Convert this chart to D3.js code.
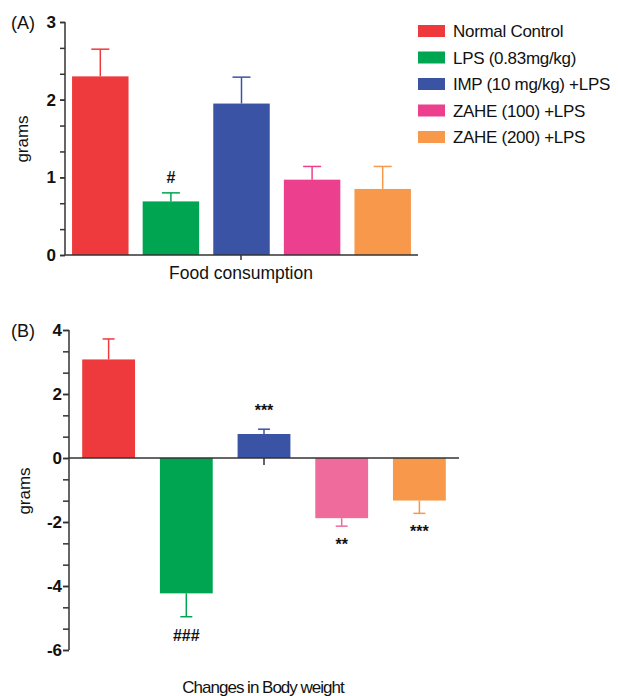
<!DOCTYPE html>
<html>
<head>
<meta charset="utf-8">
<script src="https://cdn.jsdelivr.net/npm/d3@7"></script>
<style>
  body { margin: 0; background: #fff; }
  text { font-family: "Liberation Sans", Arial, sans-serif; fill: #111; }
  .axis path, .axis line { stroke: #333; stroke-width: 1.5px; }
  .axis text { font-size: 17px; font-weight: bold; font-family: "Liberation Sans", Arial, sans-serif; }
</style>
</head>
<body>
<svg width="618" height="696"></svg>
<script>
// groups
const groups = ["Normal Control", "LPS (0.83mg/kg)", "IMP (10 mg/kg) +LPS", "ZAHE (100) +LPS", "ZAHE (200) +LPS"]
const colorsA = ["#ee3a3c", "#00a551", "#3a53a4", "#ec408f", "#f7984a"]
const colorsB = ["#ee3a3c", "#00a551", "#3a53a4", "#ef6b9b", "#f7984a"]

// (A) food consumption
const foodMean = [2.30, 0.69, 1.95, 0.97, 0.85]
const foodErr = [0.35, 0.11, 0.34, 0.17, 0.29]
const foodMarks = ["", "#", "", "", ""]

// (B) change in body weight
const weightMean = [3.08, -4.23, 0.75, -1.88, -1.33]
const weightErr = [0.64, 0.73, 0.15, 0.25, 0.40]
const weightMarks = ["", "###", "***", "**", "***"]

const svg = d3.select("svg")
const intFmt = d => String(d)   // plain hyphen minus like the original

// ---------- panel A ----------
const xA = d3.scaleBand().domain(groups).range([65, 418]).paddingInner(0.2).paddingOuter(0.1)
const yA = d3.scaleLinear().domain([0, 3]).range([255, 22])

const gA = svg.append("g")

// minor ticks
gA.append("g").attr("class", "axis")
  .attr("transform", "translate(65,0)")
  .call(d3.axisLeft(yA).tickValues(d3.range(0, 3.01, 1/3)).tickSize(5).tickFormat(""))
  .select(".domain").remove()

gA.append("g").attr("class", "axis")
  .attr("transform", "translate(65,0)")
  .call(d3.axisLeft(yA).tickValues([0, 1, 2, 3]).tickSize(5).tickPadding(4).tickFormat(intFmt))
  .call(g => g.select(".domain").attr("d", "M0," + yA(3) + "V" + yA(0)))

gA.selectAll("rect.bar")
  .data(groups)
  .enter().append("rect")
  .attr("x", d => xA(d))
  .attr("width", xA.bandwidth())
  .attr("y", (d, i) => yA(foodMean[i]))
  .attr("height", (d, i) => yA(0) - yA(foodMean[i]))
  .attr("fill", (d, i) => colorsA[i])

// error bars
groups.forEach((g, i) => {
  const cx = xA(g) + xA.bandwidth() / 2
  gA.append("line")
    .attr("x1", cx).attr("x2", cx)
    .attr("y1", yA(foodMean[i])).attr("y2", yA(foodMean[i] + foodErr[i]))
    .attr("stroke", colorsA[i]).attr("stroke-width", 1.5)
  gA.append("line")
    .attr("x1", cx - 9).attr("x2", cx + 9)
    .attr("y1", yA(foodMean[i] + foodErr[i])).attr("y2", yA(foodMean[i] + foodErr[i]))
    .attr("stroke", colorsA[i]).attr("stroke-width", 1.5)
  if (foodMarks[i]) {
    gA.append("text")
      .attr("x", cx).attr("y", yA(foodMean[i] + foodErr[i]) - 10)
      .attr("text-anchor", "middle")
      .style("font-size", "16px").style("font-weight", "bold")
      .text(foodMarks[i])
  }
})

// x axis A
gA.append("line").attr("x1", 65).attr("x2", 418).attr("y1", yA(0)).attr("y2", yA(0))
  .attr("stroke", "#333").attr("stroke-width", 1.5)
gA.append("line").attr("x1", 241).attr("x2", 241).attr("y1", yA(0)).attr("y2", yA(0) + 5)
  .attr("stroke", "#333").attr("stroke-width", 1.5)

gA.append("text").attr("x", 241).attr("y", 279).attr("text-anchor", "middle")
  .style("font-size", "17.5px").text("Food consumption")
gA.append("text").attr("x", 11).attr("y", 29).style("font-size", "18px").text("(A)")
gA.append("text").attr("transform", "translate(28,139) rotate(-90)")
  .attr("text-anchor", "middle").style("font-size", "17px").text("grams")

// legend
const legend = svg.append("g")
legend.selectAll("rect")
  .data(groups)
  .enter().append("rect")
  .attr("x", 418).attr("y", (d, i) => 25 + i * 26.5)
  .attr("width", 27).attr("height", 12)
  .attr("fill", (d, i) => colorsA[i])
legend.selectAll("text")
  .data(groups)
  .enter().append("text")
  .attr("x", 453).attr("y", (d, i) => 37 + i * 26.5)
  .style("font-size", "17px").style("letter-spacing", "-0.3px")
  .text(d => d)

// ---------- panel B ----------
const xB = d3.scaleBand().domain(groups).range([69, 459]).paddingInner(0.32).paddingOuter(0.17)
const yB = d3.scaleLinear().domain([-6, 4]).range([650, 330])

const gB = svg.append("g")

gB.append("g").attr("class", "axis")
  .attr("transform", "translate(69,0)")
  .call(d3.axisLeft(yB).tickValues(d3.range(-6, 4.01, 2/3)).tickSize(6).tickFormat(""))
  .select(".domain").remove()

gB.append("g").attr("class", "axis")
  .attr("transform", "translate(69,0)")
  .call(d3.axisLeft(yB).tickValues([-6, -4, -2, 0, 2, 4]).tickSize(6).tickPadding(1).tickFormat(intFmt))
  .call(g => g.select(".domain").attr("d", "M0," + yB(4) + "V" + yB(-6)))

gB.selectAll("rect.bar")
  .data(groups)
  .enter().append("rect")
  .attr("x", d => xB(d))
  .attr("width", xB.bandwidth())
  .attr("y", (d, i) => yB(Math.max(0, weightMean[i])))
  .attr("height", (d, i) => Math.abs(yB(weightMean[i]) - yB(0)))
  .attr("fill", (d, i) => colorsB[i])

groups.forEach((g, i) => {
  const cx = xB(g) + xB.bandwidth() / 2
  const sign = weightMean[i] >= 0 ? 1 : -1
  const end = weightMean[i] + sign * weightErr[i]
  gB.append("line")
    .attr("x1", cx).attr("x2", cx)
    .attr("y1", yB(weightMean[i])).attr("y2", yB(end))
    .attr("stroke", colorsB[i]).attr("stroke-width", 1.5)
  gB.append("line")
    .attr("x1", cx - 6).attr("x2", cx + 6)
    .attr("y1", yB(end)).attr("y2", yB(end))
    .attr("stroke", colorsB[i]).attr("stroke-width", 1.5)
  if (weightMarks[i]) {
    gB.append("text")
      .attr("x", cx).attr("y", sign > 0 ? yB(end) - 13 : yB(end) + 24)
      .attr("text-anchor", "middle")
      .style("font-size", "16px")
      .style("font-weight", "bold")
      .text(weightMarks[i])
  }
})

// zero line B
gB.append("line").attr("x1", 69).attr("x2", 459).attr("y1", yB(0)).attr("y2", yB(0))
  .attr("stroke", "#333").attr("stroke-width", 1.5)
gB.append("line").attr("x1", 264).attr("x2", 264).attr("y1", yB(0)).attr("y2", yB(0) + 7)
  .attr("stroke", "#333").attr("stroke-width", 1.5)

gB.append("text").attr("x", 263).attr("y", 693).attr("text-anchor", "middle")
  .style("font-size", "17px").style("letter-spacing", "-1px").text("Changes in Body weight")
gB.append("text").attr("x", 11).attr("y", 337).style("font-size", "18px").text("(B)")
gB.append("text").attr("transform", "translate(30,491) rotate(-90)")
  .attr("text-anchor", "middle").style("font-size", "17px").text("grams")
</script>
</body>
</html>
